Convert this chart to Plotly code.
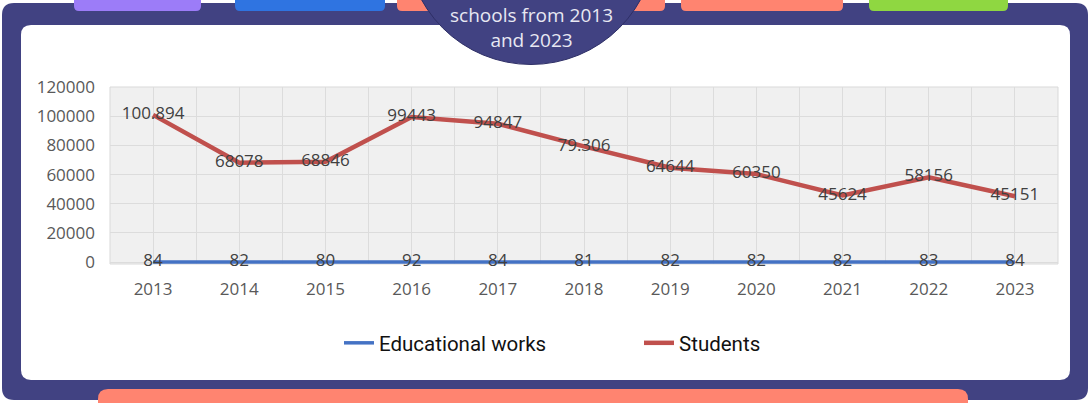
import plotly.graph_objects as go

# ---------------- data ----------------
years = [2013, 2014, 2015, 2016, 2017, 2018, 2019, 2020, 2021, 2022, 2023]
educational_works = [84, 82, 80, 92, 84, 81, 82, 82, 82, 83, 84]
students = [100894, 68078, 68846, 99443, 94847, 79306, 64644, 60350, 45624, 58156, 45151]
students_labels = ["100.894", "68078", "68846", "99443", "94847", "79.306",
                   "64644", "60350", "45624", "58156", "45151"]
edu_labels = [str(v) for v in educational_works]
y_ticks = [0, 20000, 40000, 60000, 80000, 100000, 120000]
title_text = "schools from 2013<br>and 2023"

# ---------------- geometry helpers ----------------
W, H = 1090, 403
ML, MR, MT, MB = 110, 32, 87, 139
PW, PH = W - ML - MR, H - MT - MB


def px(x):
    return (x - ML) / PW


def py(y):
    return (H - MB - y) / PH


def rrect(x0, y0, x1, y1, rtl, rtr, rbr, rbl):
    pts = [
        ("M", [(x0 + rtl, y0)]),
        ("L", [(x1 - rtr, y0)]),
        ("Q", [(x1, y0), (x1, y0 + rtr)]),
        ("L", [(x1, y1 - rbr)]),
        ("Q", [(x1, y1), (x1 - rbr, y1)]),
        ("L", [(x0 + rbl, y1)]),
        ("Q", [(x0, y1), (x0, y1 - rbl)]),
        ("L", [(x0, y0 + rtl)]),
        ("Q", [(x0, y0), (x0 + rtl, y0)]),
    ]
    s = ""
    for cmd, ps in pts:
        s += cmd + " ".join(f"{px(a):.6f},{py(b):.6f}" for a, b in ps) + " "
    return s + "Z"


FRAME = "#414282"
SALMON = "#FF8470"

shapes = []


def add_path(path, fill, line_color=None, line_width=0):
    shapes.append(dict(type="path", path=path, xref="paper", yref="paper",
                       fillcolor=fill, line=dict(width=line_width, color=line_color or fill),
                       layer="below"))


# outer frame
add_path(rrect(2, 3, 1088, 400, 12, 12, 12, 12), FRAME)
# top tabs
for (a, b, c) in [(74, 201, "#9C7CF8"), (235, 385, "#2F74E1"), (397, 665, SALMON),
                  (681, 843, SALMON), (869, 1008, "#8FD741")]:
    add_path(rrect(a, -10, b, 11, 0, 0, 5, 5), c)
# white panel
add_path(rrect(21, 25, 1070, 380, 10, 10, 10, 10), "#FFFFFF")
# plot background
shapes.append(dict(type="rect", xref="paper", yref="paper", x0=0, x1=1, y0=0, y1=1,
                   fillcolor="#F0F0F0", line=dict(width=1, color="#D9D9D9"), layer="below"))
# title circle
cx, cy, r = 531, -60.5, 125
shapes.append(dict(type="circle", xref="paper", yref="paper",
                   x0=px(cx - r), x1=px(cx + r), y0=py(cy + r), y1=py(cy - r),
                   fillcolor=FRAME, line=dict(width=1, color="#2E2F66"), layer="below"))
# bottom bar
add_path(rrect(98, 389, 968, 420, 10, 10, 0, 0), SALMON)

# ---------------- figure ----------------
fig = go.Figure()
fig.add_trace(go.Scatter(
    x=years, y=educational_works, name="Educational works", mode="lines+text",
    text=edu_labels, textposition="middle center",
    textfont=dict(family="Open Sans", size=17, color="#404040"),
    line=dict(color="#4472C4", width=3.5), cliponaxis=False,
))
fig.add_trace(go.Scatter(
    x=years, y=students, name="Students", mode="lines+text",
    text=students_labels, textposition="middle center",
    textfont=dict(family="Open Sans", size=17, color="#404040"),
    line=dict(color="#C0504D", width=4.5), cliponaxis=False,
))

grid = "#DCDCDC"
fig.update_layout(
    width=W, height=H,
    margin=dict(l=ML, r=MR, t=MT, b=MB, pad=0),
    paper_bgcolor="#FFFFFF", plot_bgcolor="#F0F0F0",
    shapes=shapes,
    showlegend=True,
    legend=dict(orientation="h", x=px(339), xanchor="left", y=py(343), yanchor="middle",
                font=dict(family="Roboto", size=20.5, color="#111111"),
                bgcolor="rgba(0,0,0,0)", entrywidth=255, entrywidthmode="pixels",
                itemwidth=30),
    annotations=[dict(text=title_text, xref="paper", yref="paper", x=px(531), y=py(27.5),
                      xanchor="center", yanchor="middle", showarrow=False, align="center",
                      font=dict(family="Open Sans", size=19, color="#E8E8F2"))],
    xaxis=dict(range=[2012.5, 2023.5], tickvals=years, ticktext=[str(y) for y in years],
               showgrid=True, gridcolor=grid, gridwidth=1, zeroline=False,
               showline=False, ticks="", ticklabelstandoff=13,
               tickfont=dict(family="Open Sans", size=17, color="#595959"),
               minor=dict(tickvals=[y + 0.5 for y in [2012] + years], showgrid=True,
                          gridcolor=grid, gridwidth=1)),
    yaxis=dict(range=[-1300, 120000], tickvals=y_ticks, tickformat="d",
               showgrid=True, gridcolor=grid, gridwidth=1, zeroline=False,
               showline=False, ticks="", ticklabelstandoff=14,
               tickfont=dict(family="Open Sans", size=17, color="#595959")),
)

fig.write_html("out.html", config=dict(displayModeBar=False),
               post_script="document.body.style.margin='0';document.body.style.overflow='hidden';")
